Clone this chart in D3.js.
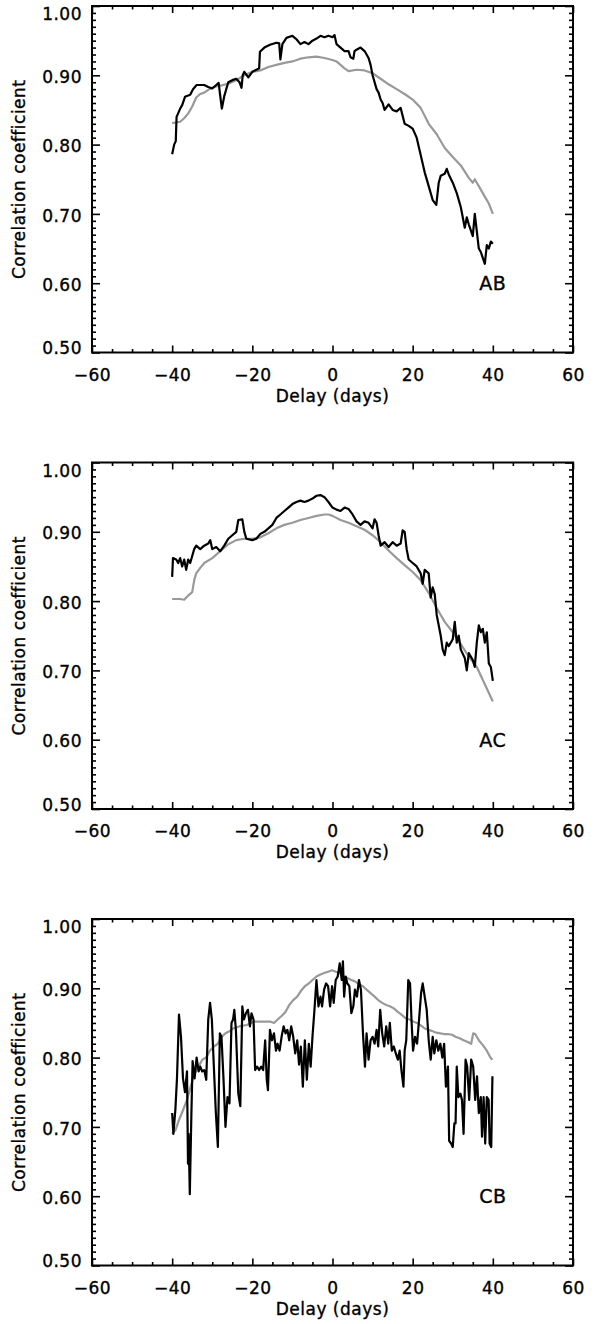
<!DOCTYPE html>
<html>
<head>
<meta charset="utf-8">
<script src="https://cdn.jsdelivr.net/npm/d3@7"></script>
<style>
  body { margin: 0; background: #fff; }
  text { font-family: "DejaVu Sans", sans-serif; font-size: 17px; letter-spacing: 0.5px; fill: #000; stroke: #000; stroke-width: 0.35px; }
  text.panel-name { font-size: 19px; }
</style>
</head>
<body>
<svg id="chart" width="606" height="1324"></svg>
<script>
// tick values and panel names
const panelNames = ["AB", "AC", "CB"];
const xTicks = [-60, -40, -20, 0, 20, 40, 60];
const yTicks = [0.5, 0.6, 0.7, 0.8, 0.9, 1.0];

// [delay (days), correlation coefficient]
const abBlack = [[-40,0.786],[-39.5,0.80],[-39.1,0.805],[-38.9,0.84],[-38,0.852],[-37.5,0.857],[-36.8,0.869],[-35.5,0.872],[-34.8,0.88],[-33.9,0.886],[-32,0.886],[-31,0.883],[-30,0.881],[-29,0.886],[-28.4,0.889],[-28,0.87],[-27.6,0.852],[-27,0.87],[-26.5,0.88],[-26,0.89],[-25,0.893],[-24,0.895],[-23.2,0.89],[-22.7,0.882],[-22.4,0.90],[-22,0.905],[-21,0.897],[-20,0.905],[-19,0.908],[-18.3,0.91],[-18.1,0.934],[-17,0.94],[-15.6,0.944],[-14,0.947],[-13.3,0.946],[-13,0.923],[-12.5,0.945],[-11.5,0.954],[-10,0.957],[-9,0.952],[-8,0.945],[-7,0.948],[-6,0.945],[-5,0.95],[-4,0.953],[-3,0.957],[-2,0.955],[-1,0.957],[0,0.955],[0.5,0.958],[1,0.945],[2,0.94],[3,0.935],[4,0.935],[4.5,0.926],[5.2,0.924],[5.5,0.935],[6,0.937],[7,0.94],[8,0.935],[9,0.925],[9.5,0.915],[10,0.90],[11,0.88],[11.5,0.875],[12,0.865],[12.5,0.86],[13,0.85],[14,0.858],[15,0.85],[16,0.848],[17,0.853],[18,0.83],[19,0.827],[20,0.823],[21,0.81],[22,0.785],[23,0.76],[24,0.74],[25,0.72],[25.9,0.713],[26.5,0.745],[27,0.755],[28,0.758],[28.5,0.765],[29,0.757],[30,0.745],[31,0.73],[32,0.71],[33,0.68],[33.5,0.695],[34,0.685],[35,0.668],[35.5,0.70],[36,0.675],[36.5,0.65],[37,0.645],[38,0.628],[38.5,0.655],[39,0.65],[39.5,0.66],[40,0.657]];
const abGray = [[-40,0.831],[-38,0.833],[-37,0.838],[-36,0.845],[-35,0.855],[-34,0.868],[-33,0.873],[-32,0.875],[-31,0.879],[-30,0.882],[-29,0.884],[-28,0.885],[-26,0.888],[-24,0.893],[-22,0.90],[-20,0.905],[-18,0.907],[-16,0.912],[-14,0.915],[-12,0.918],[-10,0.92],[-8,0.924],[-6,0.926],[-4,0.927],[-2,0.925],[0,0.922],[1,0.92],[2,0.915],[3,0.91],[4,0.906],[6,0.908],[8,0.907],[10,0.903],[12,0.895],[14,0.887],[16,0.88],[18,0.873],[20,0.865],[22,0.853],[24,0.83],[26,0.815],[28,0.795],[30,0.782],[32,0.77],[34,0.752],[35,0.745],[35.5,0.75],[36,0.745],[37,0.735],[38,0.725],[39,0.715],[40,0.70]];

const acBlack = [[-40,0.835],[-39.8,0.862],[-39,0.86],[-38.5,0.855],[-38,0.862],[-37.5,0.85],[-37,0.86],[-36.5,0.845],[-36,0.86],[-35.5,0.855],[-35,0.865],[-34.5,0.875],[-34,0.88],[-33,0.875],[-32,0.88],[-31,0.883],[-30.5,0.888],[-30,0.875],[-29,0.878],[-28,0.872],[-27,0.88],[-26,0.89],[-25,0.895],[-24,0.90],[-23.5,0.917],[-22.5,0.918],[-22,0.90],[-21.5,0.89],[-20,0.888],[-19,0.89],[-18,0.897],[-17,0.90],[-16,0.905],[-15,0.91],[-14,0.92],[-13,0.925],[-12,0.93],[-11,0.935],[-10,0.94],[-9,0.943],[-8,0.945],[-7,0.943],[-6,0.945],[-5,0.948],[-4,0.952],[-3,0.953],[-2,0.95],[-1,0.943],[0,0.935],[1,0.932],[2,0.93],[3,0.935],[4,0.933],[5,0.925],[6,0.915],[7,0.91],[8,0.915],[9,0.913],[10,0.905],[10.5,0.918],[11,0.913],[11.5,0.895],[12,0.88],[13,0.885],[14,0.878],[15,0.885],[16,0.88],[17,0.883],[17.5,0.902],[18,0.90],[18.5,0.875],[19,0.86],[20,0.855],[21,0.85],[22,0.84],[22.5,0.825],[23,0.845],[24,0.84],[24.5,0.805],[25,0.82],[25.5,0.81],[26,0.78],[27,0.75],[27.5,0.73],[28,0.722],[28.5,0.74],[29,0.735],[30,0.745],[30.5,0.77],[31,0.74],[31.5,0.75],[32,0.73],[33,0.718],[33.5,0.70],[34,0.725],[35,0.715],[35.5,0.705],[36,0.74],[36.5,0.765],[37,0.755],[37.5,0.76],[38,0.74],[38.5,0.755],[39,0.71],[39.5,0.705],[40,0.685]];
const acGray = [[-40,0.803],[-38,0.803],[-37,0.802],[-36,0.808],[-35,0.813],[-34.5,0.83],[-34,0.84],[-33,0.848],[-32,0.855],[-30,0.862],[-28,0.872],[-26,0.882],[-24,0.888],[-22,0.89],[-20,0.89],[-18,0.892],[-16,0.898],[-14,0.905],[-12,0.91],[-10,0.913],[-8,0.917],[-6,0.92],[-4,0.923],[-2,0.925],[-1,0.925],[0,0.923],[2,0.917],[4,0.913],[6,0.908],[8,0.903],[10,0.895],[12,0.885],[14,0.873],[16,0.862],[18,0.852],[20,0.842],[22,0.83],[24,0.812],[26,0.79],[28,0.77],[30,0.755],[32,0.738],[34,0.72],[36,0.705],[38,0.68],[40,0.655]];

const cbBlack = [[-40,0.72],[-39.7,0.69],[-39.2,0.725],[-38.8,0.77],[-38.3,0.862],[-37.8,0.83],[-37.3,0.77],[-36.8,0.75],[-36.3,0.78],[-36.05,0.647],[-35.9,0.69],[-35.6,0.603],[-35.2,0.72],[-34.9,0.795],[-34.4,0.77],[-33.9,0.80],[-33.4,0.78],[-33,0.787],[-32.5,0.78],[-32,0.782],[-31.5,0.768],[-31,0.855],[-30.55,0.879],[-30.1,0.855],[-29.6,0.787],[-29.1,0.72],[-28.6,0.671],[-28.1,0.835],[-27.7,0.83],[-27.2,0.77],[-26.7,0.70],[-26.2,0.743],[-25.7,0.734],[-25.2,0.85],[-24.8,0.855],[-24.5,0.869],[-24.1,0.84],[-23.5,0.748],[-23,0.73],[-22.5,0.874],[-22.1,0.855],[-21.6,0.864],[-21.1,0.869],[-20.6,0.845],[-20.2,0.864],[-19.7,0.855],[-19.3,0.782],[-18.8,0.787],[-18.3,0.782],[-17.8,0.787],[-17.3,0.782],[-16.8,0.825],[-16.4,0.768],[-16.1,0.753],[-15.6,0.84],[-15.1,0.825],[-14.6,0.835],[-14.1,0.81],[-13.7,0.82],[-13.2,0.81],[-12.7,0.83],[-12.2,0.845],[-11.7,0.835],[-11.25,0.84],[-10.8,0.825],[-10.3,0.845],[-9.8,0.83],[-9.3,0.806],[-8.8,0.825],[-8.35,0.79],[-7.9,0.816],[-7.4,0.758],[-6.9,0.825],[-6.4,0.768],[-5.9,0.82],[-5.45,0.787],[-5,0.83],[-4.5,0.869],[-4,0.912],[-3.5,0.874],[-3,0.888],[-2.6,0.874],[-2.1,0.898],[-1.6,0.907],[-1.1,0.903],[-0.6,0.874],[-0.1,0.903],[0.3,0.879],[0.8,0.912],[1.3,0.917],[1.8,0.936],[2.3,0.912],[2.6,0.939],[2.9,0.888],[3.3,0.917],[3.7,0.907],[4.2,0.903],[4.7,0.864],[5.2,0.874],[5.6,0.898],[6.1,0.888],[6.6,0.912],[7.1,0.898],[7.6,0.835],[8.1,0.787],[8.5,0.835],[9,0.797],[9.5,0.825],[10,0.83],[10.5,0.82],[11,0.84],[11.4,0.816],[11.9,0.869],[12.4,0.835],[12.9,0.816],[13.4,0.845],[13.9,0.82],[14.3,0.85],[14.8,0.81],[15.3,0.816],[15.8,0.806],[16.3,0.797],[16.75,0.81],[17.2,0.782],[17.7,0.758],[18,0.81],[18.4,0.825],[18.9,0.912],[19.35,0.907],[19.7,0.855],[20.1,0.81],[20.6,0.83],[21.1,0.82],[21.6,0.855],[22.1,0.893],[22.5,0.907],[23,0.888],[23.5,0.869],[24,0.825],[24.5,0.797],[25,0.83],[25.4,0.806],[25.9,0.825],[26.4,0.81],[26.9,0.82],[27.4,0.80],[27.85,0.82],[28.3,0.758],[28.8,0.787],[29.1,0.68],[29.6,0.676],[30,0.671],[30.4,0.705],[30.7,0.705],[31,0.787],[31.4,0.743],[31.9,0.748],[32.3,0.739],[32.7,0.69],[33.2,0.797],[33.6,0.787],[34.1,0.739],[34.6,0.797],[35.1,0.787],[35.6,0.739],[36.05,0.773],[36.5,0.72],[37,0.743],[37.3,0.686],[37.7,0.743],[38.1,0.676],[38.5,0.743],[38.95,0.739],[39.2,0.676],[39.6,0.671],[39.9,0.773]];
const cbGray = [[-40,0.69],[-39.2,0.695],[-38.3,0.71],[-37.3,0.724],[-36.3,0.739],[-35.4,0.758],[-34.4,0.777],[-33.4,0.787],[-32.5,0.797],[-31.5,0.80],[-30.6,0.81],[-29.6,0.816],[-28.6,0.82],[-27.7,0.83],[-26.7,0.835],[-25.7,0.838],[-24.8,0.842],[-23.3,0.845],[-21.4,0.847],[-19.5,0.852],[-17.5,0.852],[-15.6,0.852],[-14.6,0.85],[-13.7,0.855],[-12.7,0.86],[-11.7,0.866],[-10.8,0.876],[-9.8,0.883],[-8.8,0.888],[-7.9,0.896],[-6.9,0.903],[-5.9,0.907],[-5,0.912],[-4,0.917],[-3,0.92],[-2.1,0.922],[-1.1,0.924],[-0.1,0.926],[0.8,0.924],[1.8,0.922],[2.8,0.917],[3.7,0.915],[4.7,0.912],[5.6,0.91],[6.6,0.906],[7.6,0.903],[8.5,0.898],[9.5,0.893],[10.5,0.888],[11.4,0.883],[12.4,0.879],[13.4,0.876],[14.3,0.874],[15.3,0.871],[16.3,0.866],[17.2,0.862],[18.2,0.857],[19.2,0.855],[20.1,0.852],[21.1,0.85],[22.1,0.846],[23,0.842],[24,0.84],[25,0.838],[25.9,0.836],[26.9,0.835],[27.8,0.834],[28.8,0.834],[29.8,0.833],[30.7,0.83],[31.7,0.828],[32.7,0.825],[33.6,0.823],[34.6,0.82],[35.1,0.835],[35.6,0.834],[36.5,0.825],[37.5,0.818],[38.5,0.81],[39.4,0.80],[39.9,0.797]];

const panels = [
  { name: panelNames[0], black: abBlack, gray: abGray },
  { name: panelNames[1], black: acBlack, gray: acGray },
  { name: panelNames[2], black: cbBlack, gray: cbGray }
];

const svg = d3.select('#chart');
svg.append('rect').attr('width', 606).attr('height', 1324).attr('fill', '#fff');

const left = 92, right = 573, plotH = 346.5;
const tops = [6, 462.5, 919];
const x = d3.scaleLinear().domain([-60, 60]).range([left, right]);

const xMinor = d3.range(-60, 61, 5).filter(v => v % 20 !== 0);
const yMinor = d3.range(50, 101).filter(v => v % 10 !== 0).map(v => v / 100);
const fmtX = d => d < 0 ? '\u2212' + Math.abs(d) : String(d);

panels.forEach((p, i) => {
  const top = tops[i], bottom = top + plotH;
  const y = d3.scaleLinear().domain([0.5, 1.0]).range([bottom, top]);
  const g = svg.append('g');

  //axes: all ticks point inward, labels only on left and bottom
  const addAxis = (axis, tx, ty) => {
    const a = g.append('g').attr('transform', `translate(${tx},${ty})`).call(axis);
    a.select('.domain').remove();
    a.selectAll('.tick line').attr('stroke', '#000').attr('stroke-width', 1.6);
    return a;
  };
  addAxis(d3.axisBottom(x).tickValues(xTicks).tickSizeInner(-7).tickSizeOuter(0).tickPadding(16).tickFormat(fmtX), 0, bottom)
    .selectAll('text').attr('font-size', null).attr('font-family', null);
  addAxis(d3.axisBottom(x).tickValues(xMinor).tickSizeInner(-3.5).tickSizeOuter(0).tickFormat(''), 0, bottom);
  addAxis(d3.axisTop(x).tickValues(xTicks).tickSizeInner(-7).tickSizeOuter(0).tickFormat(''), 0, top);
  addAxis(d3.axisTop(x).tickValues(xMinor).tickSizeInner(-3.5).tickSizeOuter(0).tickFormat(''), 0, top);

  const yl = addAxis(d3.axisLeft(y).tickValues(yTicks).tickSizeInner(-8).tickSizeOuter(0).tickPadding(10).tickFormat(d3.format('.2f')), left, 0);
  yl.selectAll('text').attr('font-size', null).attr('font-family', null)
    .attr('dy', d => d === 1.0 ? '0.8em' : (d === 0.5 ? '0.06em' : '0.42em'));
  addAxis(d3.axisLeft(y).tickValues(yMinor).tickSizeInner(-4).tickSizeOuter(0).tickFormat(''), left, 0);
  addAxis(d3.axisRight(y).tickValues(yTicks).tickSizeInner(-8).tickSizeOuter(0).tickFormat(''), right, 0);
  addAxis(d3.axisRight(y).tickValues(yMinor).tickSizeInner(-4).tickSizeOuter(0).tickFormat(''), right, 0);

  g.append('rect')
    .attr('x', left).attr('y', top)
    .attr('width', right - left).attr('height', plotH)
    .attr('fill', 'none').attr('stroke', '#000').attr('stroke-width', 2);

  const line = d3.line().x(d => x(d[0])).y(d => y(d[1]));
  g.append('path').datum(p.gray)
    .attr('d', line).attr('fill', 'none')
    .attr('stroke', '#999').attr('stroke-width', 2.2).attr('stroke-linejoin', 'round');
  g.append('path').datum(p.black)
    .attr('d', line).attr('fill', 'none')
    .attr('stroke', '#000').attr('stroke-width', 2.2).attr('stroke-linejoin', 'round');

  g.append('text')
    .attr('class', 'panel-name')
    .attr('x', x(40)).attr('y', y(0.60)).attr('dy', '0.36em')
    .attr('text-anchor', 'middle')
    .text(p.name);

  g.append('text')
    .attr('x', x(0)).attr('y', bottom + 49)
    .attr('text-anchor', 'middle')
    .text('Delay (days)');

  g.append('text')
    .attr('transform', `translate(25,${top + plotH / 2}) rotate(-90)`)
    .attr('text-anchor', 'middle')
    .text('Correlation coefficient');
});
</script>
</body>
</html>
